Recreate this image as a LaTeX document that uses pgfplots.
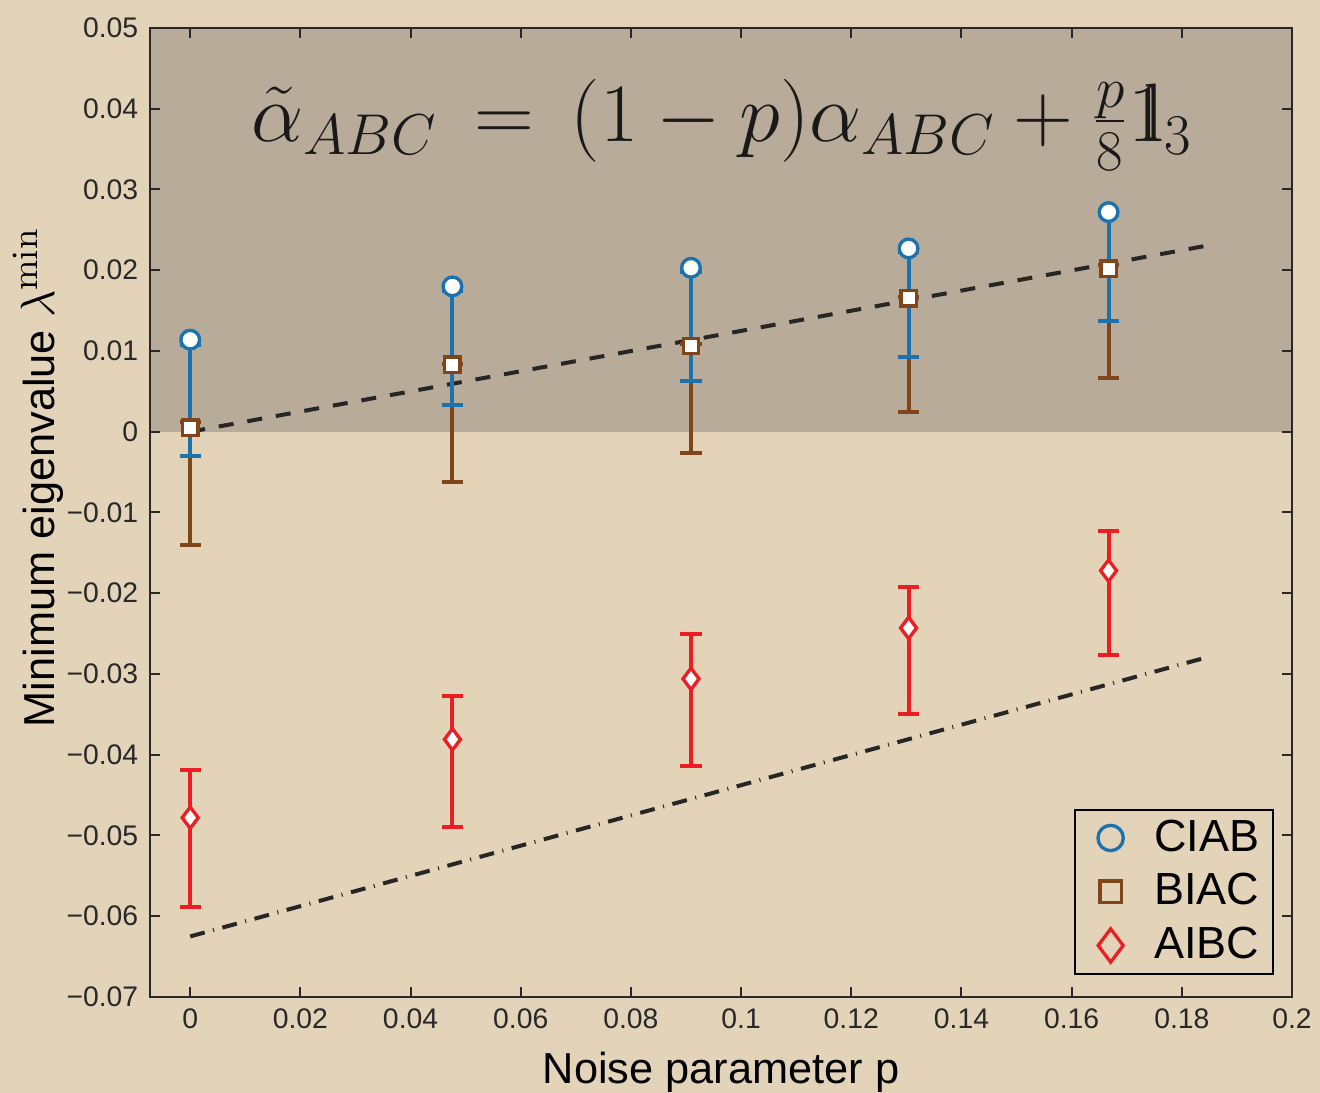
\documentclass[border=0pt]{standalone}
\usepackage{pgfplots}
\pgfplotsset{compat=1.18}
\usepackage{pgfplotstable}
\usepackage[no-math]{fontspec}
\setmainfont{Liberation Sans}
\usetikzlibrary{calc,backgrounds}

\definecolor{parch}{RGB}{226,211,185}
\definecolor{shade}{RGB}{184,171,153}
\definecolor{cblue}{RGB}{28,114,172}
\definecolor{cbrown}{RGB}{128,70,26}
\definecolor{cred}{RGB}{236,30,36}
\definecolor{axgray}{RGB}{40,40,40}

% double-struck one
\newcommand{\bbone}{\mathrm{1\mkern-5mu l}}

% x = p, y = value, ep/em = upper/lower error
\pgfplotstableread{
x       y       ep       em
0       0.0114  -0.0006  0.0144
0.0476  0.0180  -0.0006  0.0147
0.0909  0.0203  -0.0005  0.0140
0.1304  0.0227  -0.0005  0.0134
0.1667  0.0272  -0.0004  0.0135
}\ciab
\pgfplotstableread{
x       y       ep      em
0       0.0005  0.0007  0.0145
0.0476  0.0083  0.0001  0.0145
0.0909  0.0106  0.0003  0.0132
0.1304  0.0165  0.0002  0.0140
0.1667  0.0202  0.0004  0.0135
}\biac
\pgfplotstableread{
x       y        ep      em
0       -0.0478  0.0059  0.0110
0.0476  -0.0381  0.0054  0.0108
0.0909  -0.0306  0.0056  0.0108
0.1304  -0.0243  0.0051  0.0106
0.1667  -0.0172  0.0049  0.0105
}\aibc

\begin{document}
\begin{tikzpicture}
\begin{axis}[
    scale only axis,
    width=342.6pt, height=290.7pt,
    xmin=-0.0073, xmax=0.2,
    ymin=-0.07, ymax=0.05,
    xtick={0,0.02,0.04,0.06,0.08,0.1,0.12,0.14,0.16,0.18,0.2},
    xticklabels={0,0.02,0.04,0.06,0.08,0.1,0.12,0.14,0.16,0.18,0.2},
    ytick={-0.07,-0.06,-0.05,-0.04,-0.03,-0.02,-0.01,0,0.01,0.02,0.03,0.04,0.05},
    yticklabels={−0.07,−0.06,−0.05,−0.04,−0.03,−0.02,−0.01,0,0.01,0.02,0.03,0.04,0.05},
    tick align=inside,
    major tick length=3pt,
    axis line style={axgray, line width=0.6pt},
    tick style={axgray, line width=0.6pt},
    ticklabel style={font=\fontsize{8.5}{10}\selectfont, text=axgray},
    label style={font=\fontsize{13}{15}\selectfont},
    xlabel={Noise parameter p},
    ylabel={Minimum eigenvalue {\fontsize{15}{17}\selectfont$\lambda^{\min}$}},
    ylabel shift=-6pt,
    ylabel style={at={(ticklabel cs:0.536)}},
    axis on top,
    legend style={at={(0.984,0.023)}, anchor=south east, fill=none,
        draw=black, line width=0.6pt, font=\fontsize{13.5}{15}\selectfont,
        row sep=1.2pt, inner xsep=2pt, inner ysep=1pt},
    legend cell align=left,
    legend image code/.code={
        \path (0cm,0cm) (0.68cm,0cm);
        \draw[#1] plot coordinates {(0.3cm,0cm)};
    },
]
% shaded region above zero
\addplot[draw=none, fill=shade, forget plot] coordinates {(-0.0073,0.05) (0.2,0.05)} \closedcycle;

% reference lines
\addplot[black!85, line width=1.2pt, dash pattern=on 4.5pt off 4.2pt, forget plot]
    coordinates {(0,0) (0.1842,0.0230)};
\addplot[black!85, line width=1.2pt, dash pattern=on 4.5pt off 2.6pt on 0.3pt off 2.6pt, forget plot]
    coordinates {(0,-0.0625) (0.1842,-0.0280)};

% BIAC bars below the blue ones
\addplot[only marks, mark=none, forget plot,
    error bars/.cd, y dir=both, y explicit,
    error bar style={cbrown, line width=1.2pt},
    error mark options={cbrown, line width=1.2pt, mark size=3.2pt, rotate=90}]
    table[x=x, y=y, y error plus=ep, y error minus=em] {\biac};

% CIAB
\addplot[only marks, mark=*, mark size=2.8pt,
    mark options={fill=white, draw=cblue, line width=1pt},
    legend image post style={mark=o, mark size=3.8pt, mark options={draw=cblue, line width=1pt}},
    error bars/.cd, y dir=both, y explicit,
    error bar style={cblue, line width=1.2pt},
    error mark options={cblue, line width=1.2pt, mark size=3.2pt, rotate=90}]
    table[x=x, y=y, y error plus=ep, y error minus=em] {\ciab};
\addlegendentry{CIAB}

% BIAC marks
\addplot[only marks, mark=square*, mark size=2.3pt,
    mark options={fill=white, draw=cbrown, line width=1pt},
    legend image post style={mark=square, mark size=3.2pt, mark options={draw=cbrown, line width=1pt}}]
    table[x=x, y=y] {\biac};
\addlegendentry{BIAC}

% AIBC
\addplot[only marks, mark=diamond*, mark size=3.2pt,
    mark options={fill=white, draw=cred, line width=1pt},
    legend image post style={mark=diamond, mark size=5pt, mark options={draw=cred, line width=1pt}},
    error bars/.cd, y dir=both, y explicit,
    error bar style={cred, line width=1.2pt},
    error mark options={cred, line width=1.2pt, mark size=3.2pt, rotate=90}]
    table[x=x, y=y, y error plus=ep, y error minus=em] {\aibc};
\addlegendentry{AIBC}

\node[font=\fontsize{25}{30}\selectfont, text=black!90] at (axis cs:0.0965,0.038)
    {$\tilde{\alpha}_{ABC} \,=\, (1-p)\alpha_{ABC} + \frac{p}{8}\bbone_3$};
\end{axis}
\pgfresetboundingbox
\path[use as bounding box] ($(current axis.south west)+(-45pt,-28.8pt)$)
    rectangle ($(current axis.north east)+(8.4pt,8.4pt)$);
\begin{scope}[on background layer]
\fill[parch] ($(current axis.south west)+(-45pt,-28.8pt)$)
    rectangle ($(current axis.north east)+(8.4pt,8.4pt)$);
\end{scope}
\end{tikzpicture}
\end{document}
